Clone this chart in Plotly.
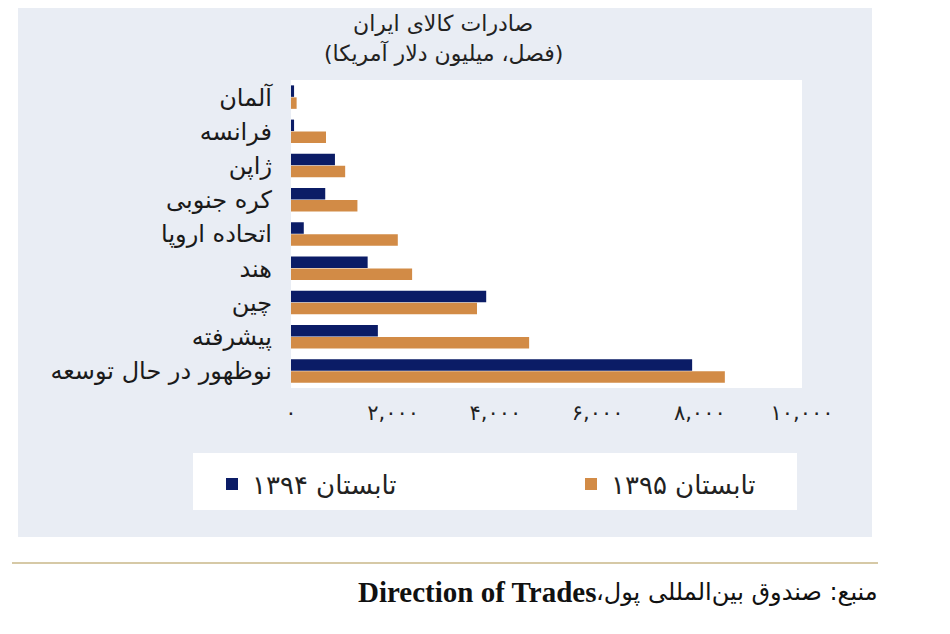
import plotly.graph_objects as go

# Iran goods exports by destination (quarter, million USD)
countries = ["آلمان", "فرانسه", "ژاپن", "کره جنوبی", "اتحاده اروپا",
             "هند", "چین", "پیشرفته", "نوظهور در حال توسعه"]
summer_1394 = [60, 60, 860, 670, 250, 1500, 3820, 1700, 7850]
summer_1395 = [110, 685, 1060, 1300, 2090, 2370, 3640, 4660, 8490]
series_names = ["تابستان ۱۳۹۴", "تابستان ۱۳۹۵"]

tick_vals = [0, 2000, 4000, 6000, 8000, 10000]
tick_text = ["۰", "۲,۰۰۰", "۴,۰۰۰", "۶,۰۰۰", "۸,۰۰۰", "۱۰,۰۰۰"]

title_lines = ["صادرات کالای ایران", "(فصل، میلیون دلار آمریکا)"]
source_fa = "منبع: صندوق بین‌المللی پول،\u200f"
source_en = "Direction of Trades"

NAVY = "#0b1c66"
TAN = "#d28b46"
PANEL = "#e9edf4"
FONT = "DejaVu Sans"

# the page body has an 8px margin, so work in page pixels and shift
OFF = 8
W, H = 950 - 2 * OFF, 634 - 2 * OFF
L, R, T = 291 - OFF, 950 - 802 - OFF, 80 - OFF
B = H - (388 - OFF)
pw, ph = W - L - R, H - T - B


def px(x):
    return (x - OFF - L) / pw


def py(y):
    return (H - B - (y - OFF)) / ph


fig = go.Figure()
fig.add_trace(go.Bar(y=countries, x=summer_1394, orientation="h", name=series_names[0],
                     marker=dict(color=NAVY, line=dict(width=0))))
fig.add_trace(go.Bar(y=countries, x=summer_1395, orientation="h", name=series_names[1],
                     marker=dict(color=TAN, line=dict(width=0))))

shapes = [
    # grey panel behind everything
    dict(type="rect", xref="paper", yref="paper", layer="below",
         x0=px(18), x1=px(872), y0=py(537), y1=py(0),
         fillcolor=PANEL, line=dict(width=0)),
    # white plot area
    dict(type="rect", xref="paper", yref="paper", layer="below",
         x0=0, x1=1, y0=0, y1=1, fillcolor="white", line=dict(width=0)),
    # white legend box
    dict(type="rect", xref="paper", yref="paper", layer="below",
         x0=px(193), x1=px(797), y0=py(510), y1=py(453),
         fillcolor="white", line=dict(width=0)),
    # separator line above source
    dict(type="line", xref="paper", yref="paper",
         x0=px(12), x1=px(878), y0=py(563), y1=py(563),
         line=dict(color="#d6c9a6", width=2)),
]

annotations = [
    dict(text=title_lines[0], x=px(443), y=py(24), xref="paper", yref="paper",
         showarrow=False, font=dict(family=FONT, size=22, color="#222"),
         xanchor="center", yanchor="middle"),
    dict(text=title_lines[1], x=px(443), y=py(53), xref="paper", yref="paper",
         showarrow=False, font=dict(family=FONT, size=22, color="#222"),
         xanchor="center", yanchor="middle"),
    dict(text=source_fa, x=px(880), y=py(592), xref="paper", yref="paper",
         showarrow=False, font=dict(family=FONT, size=24, color="#111"),
         xanchor="right", yanchor="middle"),
    dict(text="<b>" + source_en + "</b>", x=px(598), y=py(592), xref="paper", yref="paper",
         showarrow=False, font=dict(family="Liberation Serif", size=29, color="#111"),
         xanchor="right", yanchor="middle"),
]

fig.update_layout(
    width=W, height=H,
    margin=dict(l=L, r=R, t=T, b=B, pad=0),
    paper_bgcolor="white", plot_bgcolor="white",
    barmode="group", bargap=0.30, bargroupgap=0.04,
    font=dict(family=FONT, color="#1a1a1a"),
    shapes=shapes, annotations=annotations,
    showlegend=True,
    legend=dict(orientation="h", x=px(212), y=py(484), xanchor="left", yanchor="middle",
                bgcolor="rgba(0,0,0,0)", font=dict(family=FONT, size=26, color="#222"),
                traceorder="normal", entrywidth=314, entrywidthmode="pixels"),
    xaxis=dict(range=[0, 10000], tickvals=tick_vals, ticktext=tick_text,
               showgrid=False, zeroline=False, showline=False, ticks="",
               tickfont=dict(family=FONT, size=21, color="#222"),
               ticklabelstandoff=10, fixedrange=True),
    yaxis=dict(categoryorder="array", categoryarray=countries, autorange="reversed",
               showgrid=False, zeroline=False, showline=False, ticks="",
               tickfont=dict(family=FONT, size=24, color="#1a1a1a"),
               ticklabelstandoff=18, fixedrange=True),
)

fig.write_html("out.html")
